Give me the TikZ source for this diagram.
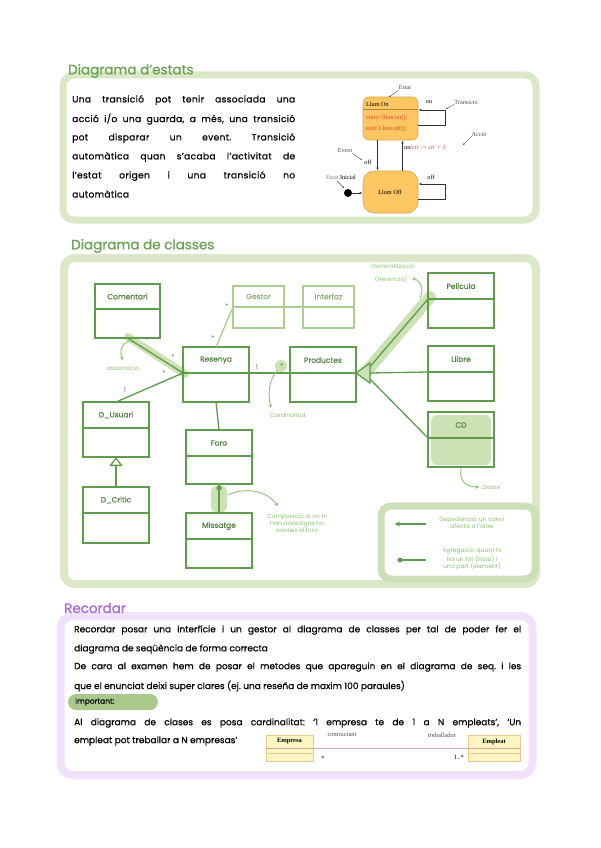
\documentclass[tikz,border=0pt]{standalone}
\usepackage{fontspec}
\setmainfont{Poppins}
\newfontfamily\stfont{Liberation Serif}
\usetikzlibrary{arrows.meta,calc}
\frenchspacing
\definecolor{dgreen}{HTML}{5F9C4C}
\definecolor{tgreen}{HTML}{4E7F3F}
\definecolor{lgreen}{HTML}{CDE2B4}
\definecolor{boxg}{HTML}{DAE8C8}
\definecolor{legg}{HTML}{CCDFB6}
\definecolor{pgreen}{HTML}{A9CF8F}
\definecolor{titg}{HTML}{6AA454}
\definecolor{anng}{HTML}{8FC173}
\definecolor{purp}{HTML}{A86AD8}
\definecolor{lav}{HTML}{F0E2FC}
\definecolor{pill}{HTML}{A9C98C}
\definecolor{stor}{HTML}{FCC662}
\definecolor{stbd}{HTML}{D9A84A}
\definecolor{stred}{HTML}{E8402A}
\definecolor{umly}{HTML}{FEF6C2}
\definecolor{umlr}{HTML}{E0A0A8}
\definecolor{umlb}{HTML}{E8C98A}
\newcommand\ucls[8][dgreen]{%
  \node[clsbox, draw=#1, minimum width=#5pt, minimum height=#6pt] (#2) at (#3,#4) {};
  \draw[draw=#1, line width=1.8pt] ($(#2.north west)+(0,#7)$) -- ($(#2.north east)+(0,#7)$);
  \node[clstext, text=#1!85!black] (#2-t) at ($(#2.north)+(0,#7/2)$) {#8};
}
\begin{document}
\begin{tikzpicture}[x=1pt,y=-1pt,
  secbox/.style={draw=boxg, line width=7pt, rounded corners=11pt},
  clsbox/.style={line width=1.5pt, inner sep=0pt, outer sep=0pt},
  clstext/.style={font=\fontsize{7.5}{9}\selectfont\addfontfeature{FakeBold=0.4}, inner sep=0pt},
  conn/.style={draw=dgreen, line width=1.3pt},
  hl/.style={draw=lgreen, line width=8pt, line cap=round},
  ann/.style={font=\fontsize{6}{7}\selectfont, text=anng, inner sep=0pt},
  annarr/.style={draw=anng, line width=0.9pt, -{Stealth[length=3.5pt,width=3.5pt]}},
  card/.style={font=\fontsize{6.5}{7}\selectfont, text=tgreen, inner sep=0pt},
  body/.style={font=\fontsize{9}{10}\selectfont\addfontfeature{FakeBold=0.5}, anchor=west, inner sep=0pt},
  pbody/.style={font=\fontsize{9.2}{10}\selectfont\addfontfeature{LetterSpace=3,FakeBold=0.5}, anchor=west, inner sep=0pt},
  title/.style={font=\fontsize{13.5}{15}\selectfont\addfontfeature{FakeBold=1}, anchor=west, inner sep=0pt},
  st/.style={draw=black!80, line width=0.8pt},
  stt/.style={font=\stfont\fontsize{6.2}{7}\selectfont, inner sep=0pt},
  stbox/.style={draw=stbd, fill=stor, line width=0.6pt, inner sep=0pt}
]
\useasboundingbox[fill=white] (0,0) rectangle (600,848);

% ================= Section 1 =================
\draw[secbox] (63,75) rectangle (536,220);
\node[title, text=titg] (t1) at (68,71) {Diagrama d’estats};
\node[pbody] (p1) at (72,100) {\makebox[223pt][s]{Una transició pot tenir associada una}};
\node[pbody] (p2) at (72,119) {\makebox[223pt][s]{acció i/o una guarda, a més, una transició}};
\node[pbody] (p3) at (72,138) {\makebox[223pt][s]{pot disparar un event. Transició}};
\node[pbody] (p4) at (72,157) {\makebox[223pt][s]{automàtica quan s’acaba l’activitat de}};
\node[pbody] (p5) at (72,176) {\makebox[223pt][s]{l’estat origen i una transició no}};
\node[pbody] (p6) at (72,194) {automàtica};

% state diagram
\node[stbox, rounded corners=6pt, minimum width=55pt, minimum height=43pt] (on) at (390.5,118.5) {};
\draw[stbd!80!black, line width=0.9pt] ($(on.north west)+(0,12.5)$) -- ($(on.north east)+(0,12.5)$);
\node[stt, anchor=west] (onl) at (366,104.5) {Llum On};
\node[stt, anchor=west, text=stred] (ent) at (366,118) {entry/ llum.on();};
\node[stt, anchor=west, text=stred] (exi) at (366,129) {exit/ Llum.off();};
\node[stbox, rounded corners=11pt, minimum width=55pt, minimum height=42pt] (off) at (390.5,192) {};
\node[stt] (offl) at (390,192) {Llum Off};
\node[circle, fill=black, inner sep=0pt, minimum size=8pt] (init) at (348,193) {};
\draw[st, -{Latex[length=3pt]}] (init) -- (off.west |- init);
\draw[st, -{Latex[length=3pt]}] ($(on.east)+(0,6.5)$) -- ++(27,0) -- ++(0,-15) -- ($(on.east)+(0,-8.5)$);
\draw[st, -{Latex[length=3pt]}] ($(off.east)+(0,7)$) -- ++(27,0) -- ++(0,-15) -- ($(off.east)+(0,-8)$);
\draw[st, -{Latex[length=3pt]}] ($(on.south)+(-13,0)$) -- ($(off.north)+(-13,0)$);
\draw[st, -{Latex[length=3pt]}] ($(off.north)+(12,0)$) -- ($(on.south)+(12,0)$);
\node[stt] (lon) at (429,102) {on};
\node[stt] (loff) at (431,177) {off};
\node[stt] (evoff) at (368,162) {off};
\node[stt, anchor=west] (onact) at (404,147) {on/\textcolor{stred}{\itshape cir := cir + 1}};
\node[stt, text=black!70] (lest) at (405,88) {Estat};
\coordinate (lestA) at (389,97);
\draw[black!70, line width=0.4pt, -{Stealth[length=2pt]}] (lest.south west) -- (lestA);
\node[stt, text=black!70] (ltr) at (466,102) {Transició};
\coordinate (ltrA) at (446,109);
\draw[black!70, line width=0.4pt, -{Stealth[length=2pt]}] (ltr.south west) -- (ltrA);
\node[stt, text=black!70] (lacc) at (479,134) {Acció};
\coordinate (laccA) at (463,145);
\draw[black!70, line width=0.4pt, -{Stealth[length=2pt]}] (lacc.south west) -- (laccA);
\node[stt, text=black!70] (lev) at (345,151) {Event};
\coordinate (levA) at (362,160);
\draw[black!70, line width=0.4pt, -{Stealth[length=2pt]}] (lev.south east) -- (levA);
\node[stt] (lini) at (341,177) {\textcolor{black!50}{Estat} Inicial};
\coordinate (liniA) at (344,188);
\coordinate (liniS) at (337,181);
\draw[black!70, line width=0.4pt, -{Stealth[length=2pt]}] (liniS) -- (liniA);

% ================= Section 2 =================
\draw[secbox, draw=boxg, line width=8pt] (64,258) rectangle (536,584);
\node[title, text=titg] (t2) at (71,246) {Diagrama de classes};

% highlights (under)
\draw[hl] (128,337) -- (185,374);
\draw[hl, line width=12pt] (366,372) -- (430,297);
\fill[lgreen, rounded corners=6pt] (431,415) rectangle (491,465);
\fill[lgreen, rounded corners=5pt] (211,486) rectangle (227,512);
\fill[lgreen] (281,366) circle (6);

% classes
\ucls{com}{127.5}{311}{65}{54}{25}{Comentari}
\ucls[pgreen]{gest}{258.5}{307}{51}{42}{21}{Gestor}
\ucls[pgreen]{intf}{328.5}{307}{51}{42}{21}{Interfaz}
\ucls{pel}{461}{300.5}{66}{55}{26}{Pelicula}
\ucls{res}{216}{374.5}{66}{55}{26}{Resenya}
\ucls{prod}{323}{374.5}{66}{55}{26}{Productes}
\ucls{llib}{461}{373.5}{66}{55}{26}{Llibre}
\ucls{cd}{461}{439.5}{66}{55}{26}{CD}
\ucls{dus}{116}{429.5}{66}{55}{26}{D\_Usuari}
\ucls{dcr}{116}{515}{66}{56}{26}{D\_Critic}
\ucls{foro}{219}{457}{66}{54}{26}{Foro}
\ucls{miss}{219}{540.5}{66}{55}{26}{Missatge}

% connectors
\coordinate (resL) at ($(res.north west)+(0,26)$);
\draw[conn] (com.south) -- (resL);
\draw[conn] (resL) -- (dus.north);
\draw[conn, draw=pgreen] (res.north) -- ($(gest.north west)+(0,21)$);
\draw[conn, draw=pgreen] ($(gest.north east)+(0,21)$) -- ($(intf.north west)+(0,21)$);
\draw[conn] ($(res.north east)+(0,26)$) -- ($(prod.north west)+(0,26)$);
\draw[conn] (res.south) -- (foro.north);
\draw[conn] (miss.north) -- (foro.south);
\fill[dgreen] ($(foro.south)+(0,4)$) circle (2.6);
\draw[conn, -{Triangle[open, length=9pt, width=13pt, fill=white]}] (dcr.north) -- (dus.south);
% generalization triangle
\coordinate (gtip) at ($(prod.north east)+(0,26)$);
\draw[conn] ($(llib.north west)+(0,26)$) -- ($(gtip)+(14,0)$);
\draw[conn] ($(pel.north west)+(0,26)$) -- ($(gtip)+(12,-4)$);
\draw[conn] ($(cd.north west)+(0,26)$) -- ($(gtip)+(12,4)$);
\draw[conn, fill=lgreen, line join=miter] (gtip) -- ($(gtip)+(14,-10)$) -- ($(gtip)+(14,10)$) -- cycle;

% cardinalities
\node[card] (c1) at (147,340) {*};
\node[card] (c2) at (173,357) {*};
\node[card] (c3) at (164,373) {*};
\node[card] (c4) at (125,390) {1};
\node[card] (c5) at (227,306) {*};
\node[card] (c6) at (213,338) {*};
\node[card] (c7) at (257,367) {1};
\node[card] (c8) at (282,366) {*};

% annotations
\node[ann] (aas) at (123,368) {associacio};
\draw[annarr] (129,341) .. controls (121,345) and (119,350) .. (123,360);
\node[ann] (acard) at (288,415) {Cardinalitat};
\draw[annarr] (278,370) .. controls (268,380) and (268,395) .. (271,408);
\node[ann] (agen1) at (393,266) {Generalització};
\node[ann] (agen2) at (391,279) {(Herencia)};
\draw[annarr] (420,298) .. controls (424,289) and (421,281) .. (412,278);
\node[ann] (acls) at (491,487) {classe};
\draw[annarr] (461,468) .. controls (459,480) and (465,487) .. (479,487);
\node[ann, align=center] (acomp) at (297,523) {Composició: si no hi\\han missatges no\\existeix el foro};
\draw[annarr] (228,495) .. controls (245,487) and (266,490) .. (278,506);

% legend
\draw[draw=legg, line width=7pt, rounded corners=10pt] (381,506) rectangle (535,579);
\coordinate (lg1a) at (426,524);
\coordinate (lg1b) at (395,524);
\draw[conn, -{Stealth[length=5pt,width=5pt]}] (lg1a) -- (lg1b);
\node[ann, align=center] (lgt1) at (472,523) {Depedència: un canvi\\afecta a l’altre};
\coordinate (lg2a) at (426,560);
\coordinate (lg2b) at (400,560);
\draw[conn] (lg2a) -- (lg2b);
\fill[dgreen] (lg2b) circle (2.5);
\node[ann, align=center] (lgt2) at (472,559) {Agregació: quant hi\\ha un tot (llista) i\\una part (element)};

% ================= Section 3 =================
\draw[draw=lav, line width=8pt, rounded corners=12pt] (60.5,616) rectangle (532.5,775);
\node[title, text=purp] (t3) at (64,608) {Recordar};
\node[body] (r1) at (74,630) {\makebox[447pt][s]{Recordar posar una interfície i un gestor al diagrama de classes per tal de poder fer el}};
\node[body] (r2) at (74,649) {diagrama de seqüència de forma correcta};
\node[body] (r3) at (74,667) {\makebox[447pt][s]{De cara al examen hem de posar el metodes que apareguin en el diagrama de seq. i les}};
\node[body] (r4) at (74,686) {que el enunciat deixi super clares (ej. una reseña de maxim 100 paraules)};
\fill[pill, rounded corners=8pt] (68,694) rectangle (158,710);
\node[body, font=\fontsize{7.5}{9}\selectfont\addfontfeature{FakeBold=0.5}] (imp) at (75,702) {Important:};
\node[body] (r5) at (74,723) {\makebox[447pt][s]{Al diagrama de clases es posa cardinalitat: ‘1 empresa te de 1 a N empleats’, ‘Un}};
\node[body] (r6) at (74,741) {empleat pot treballar a N empresas’};

% small UML
\node[fill=umly, draw=umlb, line width=0.5pt, minimum width=47pt, minimum height=26pt, inner sep=0pt] (emp) at (289.5,748) {};
\draw[umlr, line width=0.7pt] (emp.west) -- (emp.east);
\draw[umlb, line width=0.5pt] ($(emp.west)+(0,5)$) -- ($(emp.east)+(0,5)$);
\node[stt, font=\stfont\bfseries\fontsize{6.5}{7}\selectfont] (empt) at (289.5,741.5) {Empresa};
\node[fill=umly, draw=umlb, line width=0.5pt, minimum width=52pt, minimum height=26pt, inner sep=0pt] (empl) at (494,748) {};
\draw[umlr, line width=0.7pt] (empl.west) -- (empl.east);
\draw[umlb, line width=0.5pt] ($(empl.west)+(0,5)$) -- ($(empl.east)+(0,5)$);
\node[stt, font=\stfont\bfseries\fontsize{6.5}{7}\selectfont] (emplt) at (494,741.5) {Empleat};
\draw[umlr, line width=0.7pt] (emp.east) -- (empl.west);
\node[stt, text=black!70, font=\stfont\fontsize{6.5}{7}\selectfont] (lct) at (342,735) {contractant};
\node[stt, text=black!70, font=\stfont\fontsize{6.5}{7}\selectfont] (ltb) at (442,735) {treballador};
\node[stt, font=\stfont\fontsize{6.5}{7}\selectfont] (m1) at (323,758) {*};
\node[stt, font=\stfont\fontsize{6.5}{7}\selectfont] (m2) at (459,757) {1..*};
\end{tikzpicture}
\end{document}
